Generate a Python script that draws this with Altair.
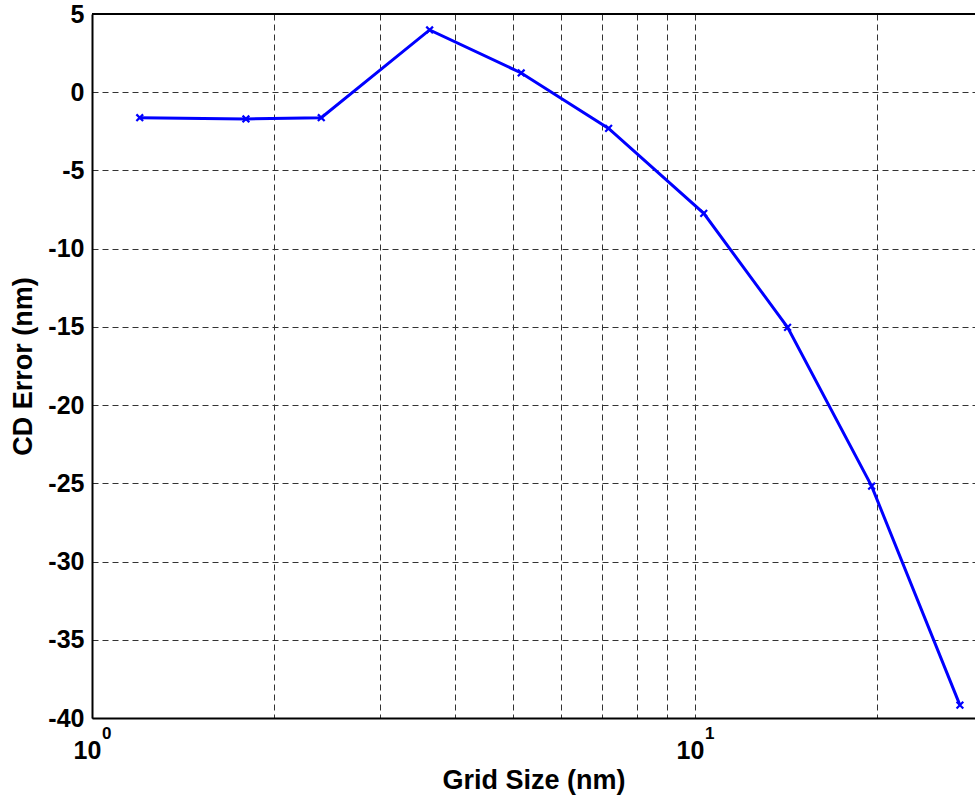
import altair as alt
import pandas as pd

# Data
grid_size = [1.2, 1.8, 2.4, 3.63, 5.15, 7.19, 10.34, 14.24, 19.63, 27.5]
cd_error = [-1.63, -1.71, -1.63, 3.98, 1.23, -2.31, -7.74, -15.03, -25.18, -39.18]

x_grid_values = [1, 2, 3, 4, 5, 6, 7, 8, 9, 10, 20]
y_tick_values = [5, 0, -5, -10, -15, -20, -25, -30, -35, -40]
exp_positions = [1, 10]
exp_labels = ["0", "1"]
x_domain = [1, 29.13]
y_domain = [-40, 5]

FONT = "Liberation Sans"
GRID_COLOR = "#333333"

df = pd.DataFrame({"x": grid_size, "y": cd_error})
exp_df = pd.DataFrame({"x": exp_positions, "t": exp_labels, "y": [y_domain[0]] * 2})
border_df = pd.DataFrame({"x": [x_domain[0]], "x2": [x_domain[1]], "y": [y_domain[1]]})

xscale = alt.Scale(type="log", domain=x_domain, nice=False)
yscale = alt.Scale(domain=y_domain, nice=False, zero=False)

x_axis = alt.Axis(
    values=x_grid_values,
    labelExpr="(datum.value == 1 || datum.value == 10) ? '10' : ''",
    grid=True, gridDash=[6, 4], gridColor=GRID_COLOR, gridWidth=1, gridOpacity=1,
    ticks=False, domainColor="black", domainWidth=2,
    labelFont=FONT, labelFontSize=25, labelFontWeight="bold", labelColor="black",
    labelPadding=20, labelOffset=-5, labelBaseline="top", labelFlush=False,
    labelOverlap=False,
    title="Grid Size (nm)", titleFont=FONT, titleFontSize=27, titleFontWeight="bold",
    titleColor="black", titlePadding=4,
)
y_axis = alt.Axis(
    values=y_tick_values,
    labelExpr="'' + datum.value",
    grid=True, gridDash=[6, 4], gridColor=GRID_COLOR, gridWidth=1, gridOpacity=1,
    ticks=False, domainColor="black", domainWidth=2,
    labelFont=FONT, labelFontSize=25, labelFontWeight="bold", labelColor="black",
    labelPadding=8, labelFlush=False, labelOverlap=False,
    title="CD Error (nm)", titleFont=FONT, titleFontSize=27, titleFontWeight="bold",
    titleColor="black", titlePadding=10,
)


def X(field):
    return alt.X(field, scale=xscale, axis=x_axis)


def Y(field):
    return alt.Y(field, scale=yscale, axis=y_axis)


line = alt.Chart(df).mark_line(color="#0000FF", strokeWidth=3).encode(
    x=X("x:Q"), y=Y("y:Q")
)
points = alt.Chart(df).mark_point(
    shape="M-1,-1L1,1M1,-1L-1,1", size=45, filled=False, color="#0000FF",
    strokeWidth=2.2, opacity=1,
).encode(x=X("x:Q"), y=Y("y:Q"))

border = alt.Chart(border_df).mark_rule(color="black", strokeWidth=2).encode(
    x=X("x:Q"), x2="x2:Q", y=Y("y:Q")
)

exps = alt.Chart(exp_df).mark_text(
    font=FONT, fontSize=17, fontWeight="bold", color="black",
    align="left", baseline="top", dx=10, dy=8,
).encode(x=X("x:Q"), y=Y("y:Q"), text="t:N")

chart = alt.layer(line, points, border, exps).properties(
    width=883, height=704,
    autosize=alt.AutoSizeParams(type="none"),
    padding={"left": 92, "top": 14, "right": 0, "bottom": 83},
).configure_view(stroke=None).configure(background="white")

chart.save("out.html", embed_options={"renderer": "svg", "actions": False})
